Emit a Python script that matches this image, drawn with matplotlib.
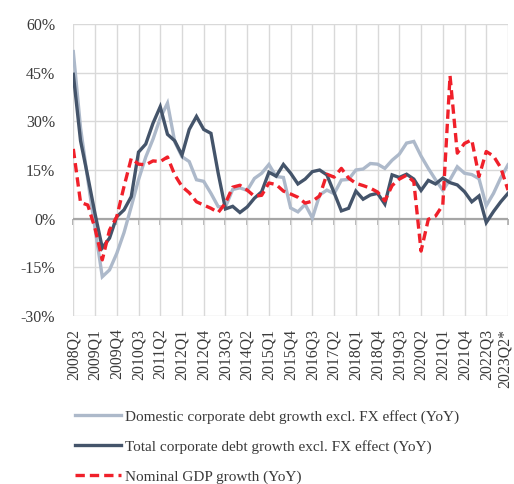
import matplotlib
matplotlib.use("Agg")
import matplotlib.pyplot as plt
import matplotlib.transforms as mtransforms

# quarters 2008Q2 .. 2023Q2 (61 points)
tick_labels = ["2008Q2", "2009Q1", "2009Q4", "2010Q3", "2011Q2", "2012Q1", "2012Q4",
               "2013Q3", "2014Q2", "2015Q1", "2015Q4", "2016Q3", "2017Q2", "2018Q1",
               "2018Q4", "2019Q3", "2020Q2", "2021Q1", "2021Q4", "2022Q3", "2023Q2*"]

domestic = [51.5, 28, 12, -3, -17.9, -15.8, -10.7, -4.3, 3.7, 12, 19, 24.5, 31, 35.6,
            23.7, 19.1, 17.6, 12, 11.5, 7.8, 3.7, 3.6, 9, 9.5, 8.7, 12.4, 14, 16.7, 13,
            12.7, 3.3, 2.1, 4.4, 0.2, 7.3, 8.8, 7.7, 11.9, 12.1, 15, 15.3, 17, 16.8, 15.5,
            18, 19.9, 23.3, 23.8, 19.3, 15.5, 12, 8.8, 12, 16, 14, 13.6, 12.3, 4, 7.8,
            12.6, 16.6]

total = [44.5, 24, 13, 1.5, -9, -6, 0.6, 2.7, 6.8, 20.5, 23, 29.4, 34.5, 26, 24, 19.6,
         27.5, 31.5, 27.5, 26.3, 14, 3, 3.8, 1.9, 3.6, 6.3, 8.3, 14.3, 13.1, 16.7, 14,
         10.7, 12.2, 14.5, 15, 13.5, 8, 2.4, 3.2, 8.5, 6, 7.3, 7.8, 4.5, 13.5, 12.7, 13.7,
         12.2, 8.7, 11.8, 10.7, 12.5, 11.1, 10.4, 8.3, 5.2, 7.0, -1.2, 2.2, 5.2, 7.8]

gdp = [21.5, 5, 4.2, -3, -12.7, -3.5, 0.6, 9.9, 18.6, 16.8, 16.6, 17.8, 17.6, 19, 13.5,
       9.9, 8, 5.2, 4.2, 3.2, 1.9, 4.8, 9.7, 10.3, 8.8, 6.9, 7.2, 11, 10.5, 8.5, 7.6, 6.6,
       4.8, 5.4, 7, 13.7, 12.8, 15.5, 12.5, 10.9, 10.2, 9.4, 8.2, 5.5, 10.2, 12.2, 13.4,
       11.4, -10, -0.2, 0.8, 4.2, 44, 20.2, 23.2, 24.3, 13, 20.7, 19.3, 15.7, 8.8]

series_labels = ["Domestic corporate debt growth excl. FX effect (YoY)",
                 "Total corporate debt growth excl. FX effect (YoY)",
                 "Nominal GDP growth (YoY)"]

y_ticks = [-30, -15, 0, 15, 30, 45, 60]

plt.rcParams['font.family'] = ['Liberation Serif', 'DejaVu Serif']
text_color = '#3a3a3a'

fig = plt.figure(figsize=(5.14, 4.84), dpi=100)
ax = fig.add_axes([73.3 / 514, 1 - 316 / 484, (508 - 73.3) / 514, (316 - 24) / 484])

x = list(range(len(total)))
l1, = ax.plot(x, domestic, color='#ADB9CA', lw=2.4, solid_joinstyle='miter', zorder=3)
l2, = ax.plot(x, total, color='#44546A', lw=2.4, solid_joinstyle='miter', zorder=4)
l3, = ax.plot(x, gdp, color='#F0202A', lw=2.4, linestyle=(0, (2.8, 1.5)), zorder=5)

ax.set_xlim(0, len(total) - 1)
ax.set_ylim(-30, 60)
ax.set_yticks(y_ticks)
ax.set_yticklabels([f"{v}%" for v in y_ticks])
tick_pos = list(range(0, len(total), 3))
ax.set_xticks(tick_pos)
ax.set_xticklabels(tick_labels, rotation=90, va='top', ha='center')

for s in ax.spines.values():
    s.set_visible(False)
ax.grid(True, color='#D9D9D9', lw=1.0, zorder=0)
ax.set_axisbelow(True)
ax.tick_params(axis='y', length=0, pad=13, labelsize=11.5, labelcolor=text_color)
ax.tick_params(axis='x', length=0, pad=9, labelsize=11.3, labelcolor=text_color)

# keep the last (longer) label inside the figure
last = ax.get_xticklabels()[-1]
last.set_transform(last.get_transform() +
                   mtransforms.ScaledTranslation(-3 / 100, 0, fig.dpi_scale_trans))

ax.axhline(0, color='#A6A6A6', lw=1.6, zorder=2)
sec = ax.secondary_xaxis(1 / 3)
sec.set_xticks(tick_pos)
sec.set_xticklabels([])
sec.tick_params(axis='x', direction='out', length=4, width=1.2, color='#A6A6A6')
for s in sec.spines.values():
    s.set_visible(False)

leg = fig.legend([l1, l2, l3], series_labels, loc='upper left',
                 bbox_to_anchor=(75 / 514, 1 - 410 / 484), frameon=False,
                 fontsize=11, handlelength=3.0, handletextpad=0.3,
                 labelspacing=1.05, borderpad=0, borderaxespad=0)
for t in leg.get_texts():
    t.set_color(text_color)

fig.savefig("out.png", dpi=100)
